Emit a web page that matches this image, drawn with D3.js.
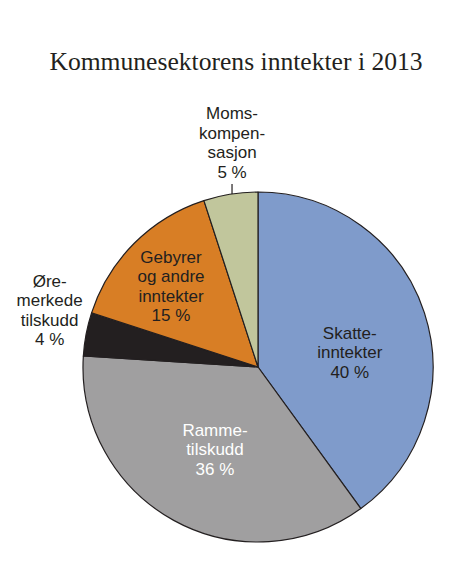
<!DOCTYPE html>
<html>
<head>
<meta charset="utf-8">
<script src="https://cdn.jsdelivr.net/npm/d3@7"></script>
<style>
  html, body { margin: 0; padding: 0; background: #fff; }
  svg { display: block; }
</style>
</head>
<body>
<svg id="chart" width="450" height="566"></svg>
<script>
// data
const categories = ["Skatteinntekter", "Rammetilskudd", "Øremerkede tilskudd", "Gebyrer og andre inntekter", "Momskompensasjon"];
const shares = [40, 36, 4, 15, 5];
const labelLines = [
    ["Skatte-", "inntekter", "40 %"],
    ["Ramme-", "tilskudd", "36 %"],
    ["Øre-", "merkede", "tilskudd", "4 %"],
    ["Gebyrer", "og andre", "inntekter", "15 %"],
    ["Moms-", "kompen-", "sasjon", "5 %"]
];
const colors = ["#7f9bcb", "#a09fa0", "#231f20", "#d87e25", "#c1c69c"];
const textColors = ["#231f20", "#ffffff", "#231f20", "#231f20", "#231f20"];

// label placement: [angle nudge in degrees from slice middle, radius]
const labelPlace = [[8.7, 93], [-1.1, 92.6], [4.5, 216], [-2, 119], [2.4, 226]];

const svg = d3.select("#chart");
const cx = 258, cy = 367, radius = 175;

svg.append("text")
    .attr("x", 236)
    .attr("y", 70)
    .attr("text-anchor", "middle")
    .attr("font-family", "'Liberation Serif', 'Times New Roman', serif")
    .attr("font-size", 25.6)
    .attr("fill", "#231f20")
    .text("Kommunesektorens inntekter i 2013");

const pie = d3.pie().sort(null).value(d => d);
const arcs = pie(shares);
const arc = d3.arc().innerRadius(0).outerRadius(radius);

const g = svg.append("g").attr("transform", `translate(${cx},${cy})`);

g.selectAll("path.slice")
    .data(arcs)
    .join("path")
    .attr("class", "slice")
    .attr("d", arc)
    .attr("fill", (d, i) => colors[i])
    .attr("stroke", "#231f20")
    .attr("stroke-width", 1.2)
    .attr("stroke-linejoin", "round");

// leader line for the small top slice
const mom = arcs[4];
const momAngle = (mom.startAngle + mom.endAngle) / 2 + labelPlace[4][0] * Math.PI / 180;
const momX = d3.pointRadial(momAngle, labelPlace[4][1])[0];
const edgeY = -Math.sqrt(radius * radius - momX * momX);
g.append("line")
    .attr("x1", momX).attr("x2", momX)
    .attr("y1", edgeY).attr("y2", edgeY - 10)
    .attr("stroke", "#231f20")
    .attr("stroke-width", 1.2);

const lineH = 19.5;
arcs.forEach((d, i) => {
    const a = (d.startAngle + d.endAngle) / 2 + labelPlace[i][0] * Math.PI / 180;
    const [x, y] = d3.pointRadial(a, labelPlace[i][1]);
    const lines = labelLines[i];
    const t = g.append("text")
        .attr("text-anchor", "middle")
        .attr("font-family", "'Liberation Sans', Arial, sans-serif")
        .attr("font-size", 17)
        .attr("fill", textColors[i]);
    lines.forEach((ln, j) => {
        t.append("tspan")
            .attr("x", x)
            .attr("y", y + (j - (lines.length - 1) / 2) * lineH)
            .attr("dy", "0.36em")
            .text(ln);
    });
});
</script>
</body>
</html>
